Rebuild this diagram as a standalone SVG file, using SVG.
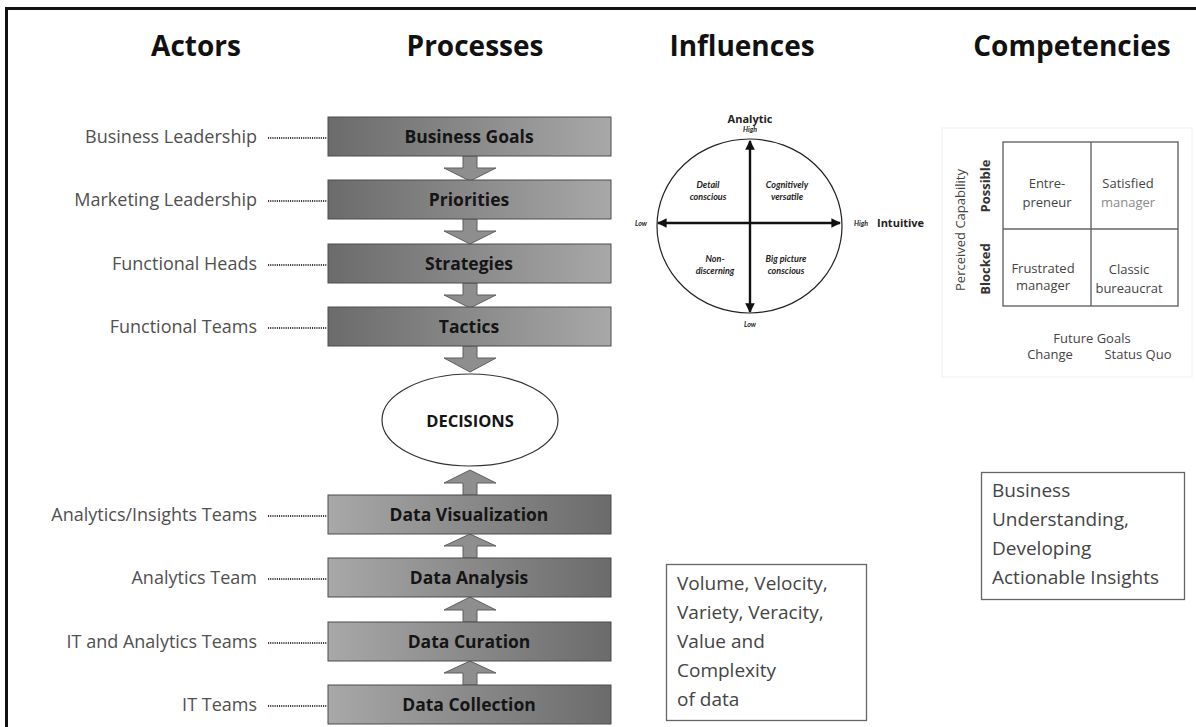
<svg xmlns="http://www.w3.org/2000/svg" width="1196" height="727" viewBox="0 0 1196 727">
  <style>
    .head{font-family:"Open Sans","Liberation Sans",sans-serif;font-weight:700;font-size:28px;fill:#111;text-anchor:middle}
    .actor{font-family:"Open Sans","Liberation Sans",sans-serif;font-size:18px;fill:#505050;text-anchor:end}
    .ptxt{font-family:"Open Sans","Liberation Sans",sans-serif;font-weight:700;font-size:17.5px;fill:#151515;text-anchor:middle}
    .down{fill:url(#gDown);stroke:#4d4d4d;stroke-width:1}
    .up{fill:url(#gUp);stroke:#4d4d4d;stroke-width:1}
    .arr{fill:#8e8e8e;stroke:#5e5e5e;stroke-width:1}
    .dot{stroke:#3a3a3a;stroke-width:2;stroke-dasharray:1.1 1.1;fill:none}
    .axis{stroke:#111;stroke-width:2.4;fill:none}
    .gi{font-family:Lato,"Open Sans",sans-serif;font-weight:700;font-style:italic;fill:#222;text-anchor:middle}
    .lbl{font-family:"Open Sans","Liberation Sans",sans-serif;font-weight:700;fill:#222;text-anchor:middle}
    .cell{font-family:"Open Sans","Liberation Sans",sans-serif;font-size:13px;fill:#444;text-anchor:middle}
    .note{font-family:"Open Sans","Liberation Sans",sans-serif;font-size:19px;fill:#444}
    .frame{fill:none;stroke:#666;stroke-width:1.3}
  </style>
  <defs>
    <linearGradient id="gDown" x1="0" y1="0" x2="1" y2="0">
      <stop offset="0" stop-color="#6b6b6b"/>
      <stop offset="1" stop-color="#a8a8a8"/>
    </linearGradient>
    <linearGradient id="gUp" x1="0" y1="0" x2="1" y2="0">
      <stop offset="0" stop-color="#a8a8a8"/>
      <stop offset="1" stop-color="#6b6b6b"/>
    </linearGradient>
    <marker id="tri" viewBox="0 0 10 10" refX="9" refY="5" markerWidth="4" markerHeight="4" orient="auto-start-reverse">
      <path d="M0,0 L10,5 L0,10 z" fill="#111"/>
    </marker>
  </defs>

  <rect width="1196" height="727" fill="#fff"/>
  <!-- page frame (top and left rules) -->
  <path d="M6.5,727 V8.5 H1196" fill="none" stroke="#111" stroke-width="3"/>

  <!-- column headings -->
  <g id="headings">
    <text class="head" x="196" y="56">Actors</text>
    <text class="head" x="475" y="56">Processes</text>
    <text class="head" x="742" y="56">Influences</text>
    <text class="head" x="1072" y="56">Competencies</text>
  </g>

  <!-- actors -->
  <g id="actors">
    <text class="actor" x="257" y="143">Business Leadership</text>
    <text class="actor" x="257" y="206">Marketing Leadership</text>
    <text class="actor" x="257" y="270">Functional Heads</text>
    <text class="actor" x="257" y="333">Functional Teams</text>
    <text class="actor" x="257" y="521">Analytics/Insights Teams</text>
    <text class="actor" x="257" y="584">Analytics Team</text>
    <text class="actor" x="257" y="648">IT and Analytics Teams</text>
    <text class="actor" x="257" y="711">IT Teams</text>
  </g>

  <!-- connectors: dotted actor links and block arrows -->
  <g id="connectors">
    <path class="dot" d="M268,138 H327 M268,201 H327 M268,265 H327 M268,328 H327 M268,516 H327 M268,579 H327 M268,643 H327 M268,706 H327"/>
    <polygon class="arr" points="463,156 477,156 477,168 496,168 470,181 444,168 463,168"/>
    <polygon class="arr" points="463,219 477,219 477,231 496,231 470,244 444,231 463,231"/>
    <polygon class="arr" points="463,283 477,283 477,295 496,295 470,308 444,295 463,295"/>
    <polygon class="arr" points="463,346 477,346 477,358 496,358 470,372 444,358 463,358"/>
    <polygon class="arr" points="463,495 477,495 477,483 496,483 470,470 444,483 463,483"/>
    <polygon class="arr" points="463,558 477,558 477,546 496,546 470,534 444,546 463,546"/>
    <polygon class="arr" points="463,622 477,622 477,610 496,610 470,597 444,610 463,610"/>
    <polygon class="arr" points="463,685 477,685 477,673 496,673 470,661 444,673 463,673"/>
  </g>

  <!-- process blocks -->
  <g id="business-goals"><rect class="down" x="328" y="117" width="283" height="39"/><text class="ptxt" x="469" y="143">Business Goals</text></g>
  <g id="priorities"><rect class="down" x="328" y="180" width="283" height="39"/><text class="ptxt" x="469" y="206">Priorities</text></g>
  <g id="strategies"><rect class="down" x="328" y="244" width="283" height="39"/><text class="ptxt" x="469" y="270">Strategies</text></g>
  <g id="tactics"><rect class="down" x="328" y="307" width="283" height="39"/><text class="ptxt" x="469" y="333">Tactics</text></g>

  <g id="decisions">
    <ellipse cx="470" cy="420" rx="88" ry="46" fill="#fff" stroke="#333" stroke-width="1.2"/>
    <text class="ptxt" x="470" y="427" style="font-size:16.5px">DECISIONS</text>
  </g>

  <g id="data-visualization"><rect class="up" x="328" y="495" width="283" height="39"/><text class="ptxt" x="469" y="521">Data Visualization</text></g>
  <g id="data-analysis"><rect class="up" x="328" y="558" width="283" height="39"/><text class="ptxt" x="469" y="584">Data Analysis</text></g>
  <g id="data-curation"><rect class="up" x="328" y="622" width="283" height="39"/><text class="ptxt" x="469" y="648">Data Curation</text></g>
  <g id="data-collection"><rect class="up" x="328" y="685" width="283" height="39"/><text class="ptxt" x="469" y="711">Data Collection</text></g>

  <!-- thinking-style quadrant chart -->
  <g id="influence-chart">
    <ellipse cx="749.5" cy="226" rx="92.5" ry="87" fill="#fff" stroke="#222" stroke-width="1.2"/>
    <line class="axis" x1="750" y1="312" x2="750" y2="141" marker-start="url(#tri)" marker-end="url(#tri)"/>
    <line class="axis" x1="658" y1="223" x2="840" y2="223" marker-start="url(#tri)" marker-end="url(#tri)"/>
    <text class="lbl" x="750" y="123" style="font-size:11px">Analytic</text>
    <text class="gi" x="750" y="132" style="font-size:7px">High</text>
    <text class="gi" x="750" y="327" style="font-size:7px">Low</text>
    <text class="gi" x="641" y="225.5" style="font-size:7px">Low</text>
    <text class="gi" x="861" y="225.5" style="font-size:7px">High</text>
    <text class="lbl" x="877" y="227" style="font-size:11px;text-anchor:start">Intuitive</text>
    <text class="gi" x="708" y="188" style="font-size:9px">Detail</text>
    <text class="gi" x="708" y="200" style="font-size:9px">conscious</text>
    <text class="gi" x="787" y="188" style="font-size:9px">Cognitively</text>
    <text class="gi" x="787" y="200" style="font-size:9px">versatile</text>
    <text class="gi" x="715" y="262" style="font-size:9px">Non-</text>
    <text class="gi" x="715" y="274" style="font-size:9px">discerning</text>
    <text class="gi" x="786" y="262" style="font-size:9px">Big picture</text>
    <text class="gi" x="786" y="274" style="font-size:9px">conscious</text>
  </g>

  <!-- capability / goals matrix -->
  <g id="competency-matrix">
    <rect x="942" y="128" width="250" height="249" fill="none" stroke="#f0f0f0" stroke-width="1"/>
    <rect x="1003" y="142" width="175" height="164" fill="#fff" stroke="#666" stroke-width="1.4"/>
    <path d="M1091,142 V306 M1003,229 H1178" stroke="#666" stroke-width="1.4"/>
    <text class="cell" x="1047" y="188">Entre-</text>
    <text class="cell" x="1047" y="207">preneur</text>
    <text class="cell" x="1128" y="188">Satisfied</text>
    <text class="cell" x="1128" y="207" style="fill:#8a8a8a">manager</text>
    <text class="cell" x="1043" y="273">Frustrated</text>
    <text class="cell" x="1043" y="290">manager</text>
    <text class="cell" x="1129" y="274">Classic</text>
    <text class="cell" x="1129" y="293">bureaucrat</text>
    <text class="cell" transform="translate(965,230) rotate(-90)">Perceived Capability</text>
    <text class="cell" transform="translate(990,186) rotate(-90)" style="font-weight:700;fill:#333">Possible</text>
    <text class="cell" transform="translate(990,269) rotate(-90)" style="font-weight:700;fill:#333">Blocked</text>
    <text class="cell" x="1092" y="343">Future Goals</text>
    <text class="cell" x="1050" y="359">Change</text>
    <text class="cell" x="1138" y="359">Status Quo</text>
  </g>

  <!-- data characteristics note -->
  <g id="data-note">
    <rect class="frame" x="666.5" y="564.5" width="200" height="156"/>
    <text class="note" x="677" y="590">Volume, Velocity,</text>
    <text class="note" x="677" y="619">Variety, Veracity,</text>
    <text class="note" x="677" y="648">Value and</text>
    <text class="note" x="677" y="677">Complexity</text>
    <text class="note" x="677" y="706">of data</text>
  </g>

  <!-- competencies note -->
  <g id="competency-note">
    <rect class="frame" x="981.5" y="472.5" width="203" height="127"/>
    <text class="note" x="992" y="497">Business</text>
    <text class="note" x="992" y="526">Understanding,</text>
    <text class="note" x="992" y="555">Developing</text>
    <text class="note" x="992" y="584">Actionable Insights</text>
  </g>
</svg>
